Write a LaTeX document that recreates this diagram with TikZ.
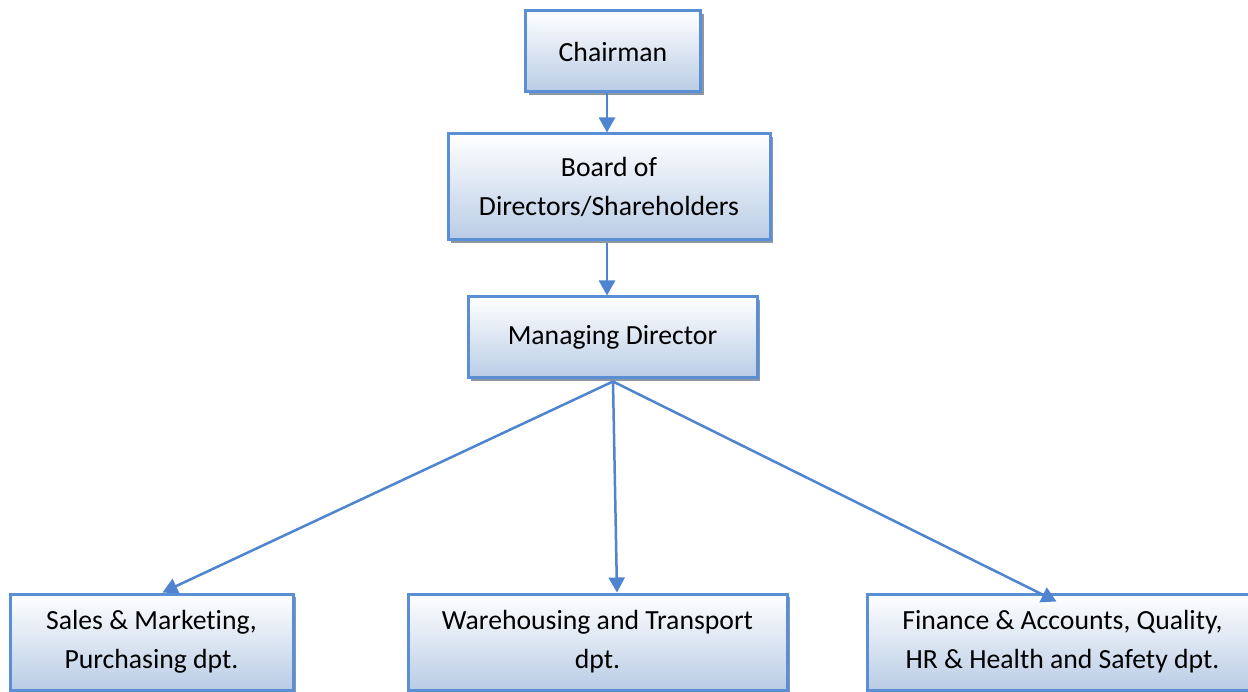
\documentclass[tikz,border=0pt]{standalone}
\usepackage{fontspec}
\setmainfont[Ligatures=NoCommon]{Carlito}
\usetikzlibrary{arrows.meta,shadows}
\definecolor{edgeblue}{RGB}{90,143,214}
\definecolor{linkblue}{RGB}{79,133,208}
\definecolor{fillblue}{RGB}{185,204,229}
\definecolor{shadowgray}{RGB}{140,150,165}
\tikzset{
  orgbox/.style={draw=edgeblue, line width=3pt, top color=white, bottom color=fillblue,
    align=center, inner sep=0pt, text=black,
    font=\fontsize{27.7}{39}\selectfont,
    general shadow={fill=shadowgray, shadow xshift=3pt, shadow yshift=-3pt}},
  link/.style={draw=linkblue, line width=2.5pt,
    -{Triangle[length=15pt,width=16pt]}}
}
\begin{document}
\begin{tikzpicture}[x=1pt,y=-1pt]
\useasboundingbox[fill=white] (0,0) rectangle (1248,692);

% hierarchy boxes
\node[orgbox, minimum width=175pt, minimum height=81pt] (chair) at (613,51.5) {Chairman};
\node[orgbox, minimum width=322pt, minimum height=106pt] (board) at (609,187) {Board of\\Directors/Shareholders};
\node[orgbox, minimum width=289pt, minimum height=81pt] (md) at (612.5,337.5) {Managing Director};
\node[orgbox, minimum width=283pt, minimum height=96pt] (sales) at (151.5,642) {Sales \& Marketing,\\Purchasing dpt.};
\node[orgbox, minimum width=379pt, minimum height=96pt] (ware) at (597.5,642) {Warehousing and Transport\\dpt.};
\node[orgbox, minimum width=391pt, minimum height=96pt] (fin) at (1062.5,642) {Finance \& Accounts, Quality,\\HR \& Health and Safety dpt.};

% reporting lines
\coordinate (hub) at ([xshift=0.5pt,yshift=-2pt]md.south);
\coordinate (finend) at ([xshift=-6pt,yshift=-9pt]fin.north);
\draw[link] ([xshift=-6pt]chair.south) -- ([xshift=-2pt]board.north);
\draw[link] ([xshift=-2pt,yshift=-2pt]board.south) -- ([xshift=-5.5pt]md.north);
\draw[link] (hub) -- ([xshift=11pt]sales.north);
\draw[link] (hub) -- ([xshift=19.5pt]ware.north);
\draw[link] (hub) -- (finend);
\end{tikzpicture}
\end{document}
